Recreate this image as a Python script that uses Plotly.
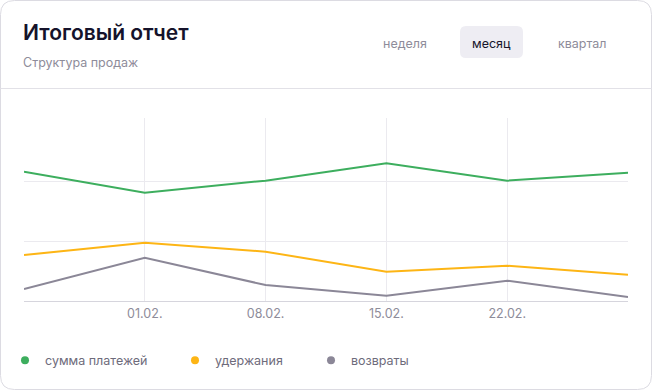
import plotly.graph_objects as go

# ---- data ----
x_pos = [0, 1, 2, 3, 4, 5]
tick_vals = [1, 2, 3, 4]
tick_labels = ["01.02.", "08.02.", "15.02.", "22.02."]
series_names = ["сумма платежей", "удержания", "возвраты"]
payments = [107.8, 90.3, 100.3, 114.8, 100.3, 106.9]
holds = [38.3, 48.6, 41.1, 24.4, 29.4, 21.9]
returns = [10.0, 36.1, 13.3, 4.4, 16.9, 3.3]
colors = ["#3DAE5E", "#FDB515", "#8B8797"]
periods = ["неделя", "месяц", "квартал"]

W, H = 652, 390
L, R, T, B = 24, 24, 118, 89
PW, PH = W - L - R, H - T - B


def px(x):
    return (x - L) / PW


def py(y):
    return (H - B - y) / PH


FONT = "Inter"
fig = go.Figure()

legend_ids = ["legend", "legend2", "legend3"]
legend_text_x = [41, 211, 347]

for name, vals, col, lid in zip(series_names, [payments, holds, returns], colors, legend_ids):
    fig.add_trace(go.Scatter(x=x_pos, y=vals, mode="lines", name=name,
                             line=dict(color=col, width=2), showlegend=False,
                             hoverinfo="skip"))
    fig.add_trace(go.Scatter(x=[None], y=[None], mode="markers", name=name,
                             marker=dict(color=col, size=8), showlegend=True, legend=lid))

shapes = []
# card border (rounded)
r = 14
x0, x1, y0, y1 = 0.5, W - 0.5, 0.5, H - 0.5
path = (f"M {px(x0 + r)},{py(y0)} L {px(x1 - r)},{py(y0)} "
        f"Q {px(x1)},{py(y0)} {px(x1)},{py(y0 + r)} "
        f"L {px(x1)},{py(y1 - r)} Q {px(x1)},{py(y1)} {px(x1 - r)},{py(y1)} "
        f"L {px(x0 + r)},{py(y1)} Q {px(x0)},{py(y1)} {px(x0)},{py(y1 - r)} "
        f"L {px(x0)},{py(y0 + r)} Q {px(x0)},{py(y0)} {px(x0 + r)},{py(y0)} Z")
shapes.append(dict(type="path", xref="paper", yref="paper", path=path,
                   line=dict(color="#DCDBE2", width=1), fillcolor="rgba(0,0,0,0)", layer="below"))
# separator
shapes.append(dict(type="line", xref="paper", yref="paper", x0=px(0.5), x1=px(W - 0.5),
                   y0=py(88.5), y1=py(88.5), line=dict(color="#E2E1E7", width=1)))
# active button
br = 6
bx0, bx1, by0, by1 = 460, 523, 26, 58
bpath = (f"M {px(bx0 + br)},{py(by0)} L {px(bx1 - br)},{py(by0)} "
         f"Q {px(bx1)},{py(by0)} {px(bx1)},{py(by0 + br)} "
         f"L {px(bx1)},{py(by1 - br)} Q {px(bx1)},{py(by1)} {px(bx1 - br)},{py(by1)} "
         f"L {px(bx0 + br)},{py(by1)} Q {px(bx0)},{py(by1)} {px(bx0)},{py(by1 - br)} "
         f"L {px(bx0)},{py(by0 + br)} Q {px(bx0)},{py(by0)} {px(bx0 + br)},{py(by0)} Z")
shapes.append(dict(type="path", xref="paper", yref="paper", path=bpath,
                   line=dict(width=0), fillcolor="#EEEDF3", layer="below"))

annotations = [
    dict(text="Итоговый отчет", x=px(21), y=py(33), xref="paper", yref="paper",
         xanchor="left", yanchor="middle", showarrow=False,
         font=dict(family=FONT, size=21, color="#15132B", weight=600)),
    dict(text="Структура продаж", x=px(21), y=py(62), xref="paper", yref="paper",
         xanchor="left", yanchor="middle", showarrow=False,
         font=dict(family=FONT, size=12.5, color="#8E8C9A")),
]
for label, cx in zip(periods, [405, 491.5, 582]):
    annotations.append(dict(text=label, x=px(cx), y=py(43), xref="paper", yref="paper",
                            xanchor="center", yanchor="middle", showarrow=False,
                            font=dict(family=FONT, size=12.5,
                                      color="#17152B" if label == "месяц" else "#8E8C9A")))

legend_common = dict(orientation="h", yanchor="middle", y=py(360.5), xanchor="left",
                     font=dict(family=FONT, size=12.5, color="#6E6B7B"), itemwidth=30,
                     bgcolor="rgba(0,0,0,0)", borderwidth=0)

fig.update_layout(
    width=W, height=H,
    margin=dict(l=L, r=R, t=T, b=B, pad=0, autoexpand=False),
    paper_bgcolor="white", plot_bgcolor="white",
    shapes=shapes, annotations=annotations,
    showlegend=True,
    legend=dict(legend_common, x=px(legend_text_x[0] - 36)),
    legend2=dict(legend_common, x=px(legend_text_x[1] - 36)),
    legend3=dict(legend_common, x=px(legend_text_x[2] - 36)),
    xaxis=dict(range=[0, 5], tickvals=tick_vals, ticktext=tick_labels,
               showgrid=True, gridcolor="#EBEAEF", gridwidth=1, zeroline=False,
               showline=False, ticks="", ticklabelstandoff=3,
               tickfont=dict(family=FONT, size=12.5, color="#8E8C9A"),
               fixedrange=True, automargin=False),
    yaxis=dict(range=[0, 152.5], tickvals=[0, 50, 100], showticklabels=False,
               showgrid=True, gridcolor="#EBEAEF", gridwidth=1, zeroline=True,
               zerolinecolor="#D6D5DD", zerolinewidth=1, showline=False, ticks="",
               fixedrange=True, automargin=False),
    hovermode=False,
)

fig.write_html("out.html", config={"displayModeBar": False},
               post_script="document.body.style.margin='0';document.body.style.padding='0';")
